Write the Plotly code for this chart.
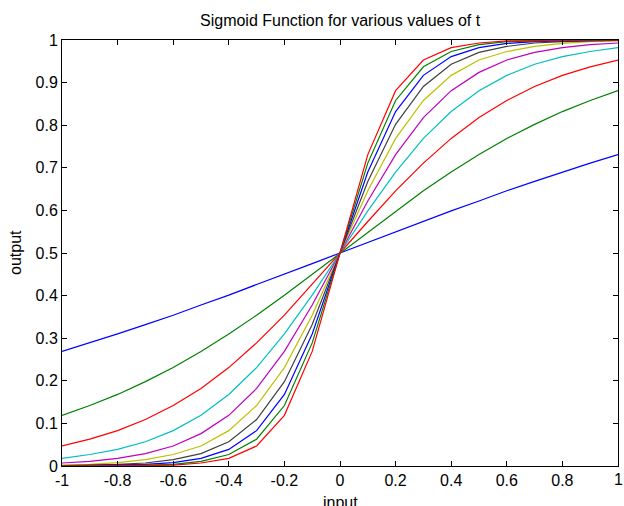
import plotly.graph_objects as go

x_input = [-1.0, -0.9, -0.8, -0.7, -0.6, -0.5, -0.4, -0.3, -0.2, -0.1, 0.0,
           0.1, 0.2, 0.3, 0.4, 0.5, 0.6, 0.7, 0.8, 0.9, 1.0]

t1 = [0.269, 0.289, 0.310, 0.332, 0.354, 0.378, 0.401, 0.426, 0.450, 0.475, 0.500,
      0.525, 0.550, 0.574, 0.599, 0.622, 0.646, 0.668, 0.690, 0.711, 0.731]
t2 = [0.119, 0.142, 0.168, 0.198, 0.231, 0.269, 0.310, 0.354, 0.401, 0.450, 0.500,
      0.550, 0.599, 0.646, 0.690, 0.731, 0.769, 0.802, 0.832, 0.858, 0.881]
t3 = [0.047, 0.063, 0.083, 0.109, 0.142, 0.182, 0.231, 0.289, 0.354, 0.426, 0.500,
      0.574, 0.646, 0.711, 0.769, 0.818, 0.858, 0.891, 0.917, 0.937, 0.953]
t4 = [0.018, 0.027, 0.039, 0.057, 0.083, 0.119, 0.168, 0.231, 0.310, 0.401, 0.500,
      0.599, 0.690, 0.769, 0.832, 0.881, 0.917, 0.943, 0.961, 0.973, 0.982]
t5 = [0.007, 0.011, 0.018, 0.029, 0.047, 0.076, 0.119, 0.182, 0.269, 0.378, 0.500,
      0.622, 0.731, 0.818, 0.881, 0.924, 0.953, 0.971, 0.982, 0.989, 0.993]
t6 = [0.002, 0.004, 0.008, 0.015, 0.027, 0.047, 0.083, 0.142, 0.231, 0.354, 0.500,
      0.646, 0.769, 0.858, 0.917, 0.953, 0.973, 0.985, 0.992, 0.996, 0.998]
t7 = [0.001, 0.002, 0.004, 0.007, 0.015, 0.029, 0.057, 0.109, 0.198, 0.332, 0.500,
      0.668, 0.802, 0.891, 0.943, 0.971, 0.985, 0.993, 0.996, 0.998, 0.999]
t8 = [0.000, 0.001, 0.002, 0.004, 0.008, 0.018, 0.039, 0.083, 0.168, 0.310, 0.500,
      0.690, 0.832, 0.917, 0.961, 0.982, 0.992, 0.996, 0.998, 0.999, 1.000]
t9 = [0.000, 0.000, 0.001, 0.002, 0.004, 0.011, 0.027, 0.063, 0.142, 0.289, 0.500,
      0.711, 0.858, 0.937, 0.973, 0.989, 0.996, 0.998, 0.999, 1.000, 1.000]
t10 = [0.000, 0.000, 0.000, 0.001, 0.002, 0.007, 0.018, 0.047, 0.119, 0.269, 0.500,
       0.731, 0.881, 0.953, 0.982, 0.993, 0.998, 0.999, 1.000, 1.000, 1.000]

series = [t1, t2, t3, t4, t5, t6, t7, t8, t9, t10]
series_names = ["t=1", "t=2", "t=3", "t=4", "t=5", "t=6", "t=7", "t=8", "t=9", "t=10"]
colors = ["#0000ff", "#008000", "#ff0000", "#00bfbf", "#bf00bf", "#bfbf00",
          "#404040", "#0000ff", "#008000", "#ff0000"]

x_tickvals = [-1, -0.8, -0.6, -0.4, -0.2, 0, 0.2, 0.4, 0.6, 0.8, 1]
x_ticktext = ["-1", "-0.8", "-0.6", "-0.4", "-0.2", "0", "0.2", "0.4", "0.6", "0.8", "1"]
y_tickvals = [0, 0.1, 0.2, 0.3, 0.4, 0.5, 0.6, 0.7, 0.8, 0.9, 1]
y_ticktext = ["0", "0.1", "0.2", "0.3", "0.4", "0.5", "0.6", "0.7", "0.8", "0.9", "1"]

fig = go.Figure()
for ys, name, c in zip(series, series_names, colors):
    fig.add_trace(go.Scatter(x=x_input, y=ys, mode="lines", name=name,
                             line=dict(color=c, width=1.2)))

# last x tick label sits at the very edge of the figure; draw it as text
x_label_text = [t if v != x_tickvals[-1] else "" for v, t in zip(x_tickvals, x_ticktext)]

font_family = "Liberation Sans, Arial, sans-serif"
fig.update_layout(
    width=624, height=506,
    margin=dict(l=62, r=6, t=40, b=40),
    paper_bgcolor="white", plot_bgcolor="white",
    showlegend=False,
    font=dict(family=font_family, size=16, color="black"),
    xaxis=dict(range=[-1, 1], tickvals=x_tickvals, ticktext=x_label_text,
               ticks="inside", ticklen=5, tickcolor="black", showgrid=False,
               zeroline=False, showline=True, linecolor="black", linewidth=1,
               mirror="ticks", tickfont=dict(size=16)),
    yaxis=dict(range=[0, 1], tickvals=y_tickvals, ticktext=y_ticktext,
               ticks="inside", ticklen=5, tickcolor="black", showgrid=False,
               zeroline=False, showline=True, linecolor="black", linewidth=1,
               mirror="ticks", tickfont=dict(size=16)),
    annotations=[
        dict(text="Sigmoid Function for various values of t", xref="paper", yref="paper",
             x=0.5, y=1, yanchor="middle", yshift=20, showarrow=False,
             font=dict(size=16)),
        dict(text=x_ticktext[-1], xref="paper", yref="paper", x=1, y=0,
             xanchor="center", yanchor="middle", yshift=-13, showarrow=False,
             font=dict(size=16)),
        dict(text="input", xref="paper", yref="paper", x=0.5, y=0, yanchor="top",
             yshift=-26, showarrow=False, font=dict(size=16)),
        dict(text="output", xref="paper", yref="paper", x=0, y=0.5, xanchor="center",
             xshift=-47, textangle=-90, showarrow=False, font=dict(size=16)),
    ],
)

fig.write_html("out.html", config={"displayModeBar": False},
               post_script="document.body.style.margin='0';document.body.style.overflow='hidden';")
